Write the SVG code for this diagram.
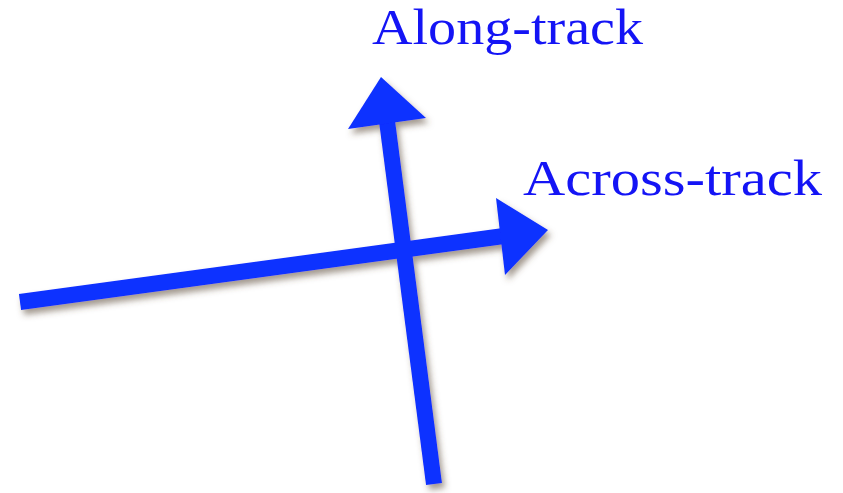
<svg xmlns="http://www.w3.org/2000/svg" width="843" height="493" viewBox="0 0 843 493">
  <defs>
    <filter id="shadow" x="-20%" y="-20%" width="140%" height="140%">
      <feDropShadow dx="3" dy="5" stdDeviation="3" flood-color="#5a4636" flood-opacity="0.55"/>
    </filter>
    <style>
      .shaft { stroke: #0a30ff; stroke-width: 16; stroke-linecap: butt; fill: none; }
      .head { fill: #0a30ff; }
      .lbl { font-family: "Liberation Serif", "DejaVu Serif", serif; font-size: 50px; fill: #1414f5; }
    </style>
  </defs>
  <rect width="843" height="493" fill="#ffffff"/>
  <g id="connectors" filter="url(#shadow)">
    <g id="across-arrow">
      <line class="shaft" x1="20" y1="302" x2="502" y2="236.3"/>
      <polygon class="head" points="496,198 548,230 505,275"/>
    </g>
    <g id="along-arrow">
      <line class="shaft" x1="434" y1="484" x2="387" y2="121"/>
      <polygon class="head" points="348,129 381,77 426,118"/>
    </g>
  </g>
  <g id="label-along">
    <text class="lbl" x="372" y="44" textLength="271" lengthAdjust="spacingAndGlyphs">Along-track</text>
  </g>
  <g id="label-across">
    <text class="lbl" x="523" y="195" textLength="299" lengthAdjust="spacingAndGlyphs">Across-track</text>
  </g>
</svg>
